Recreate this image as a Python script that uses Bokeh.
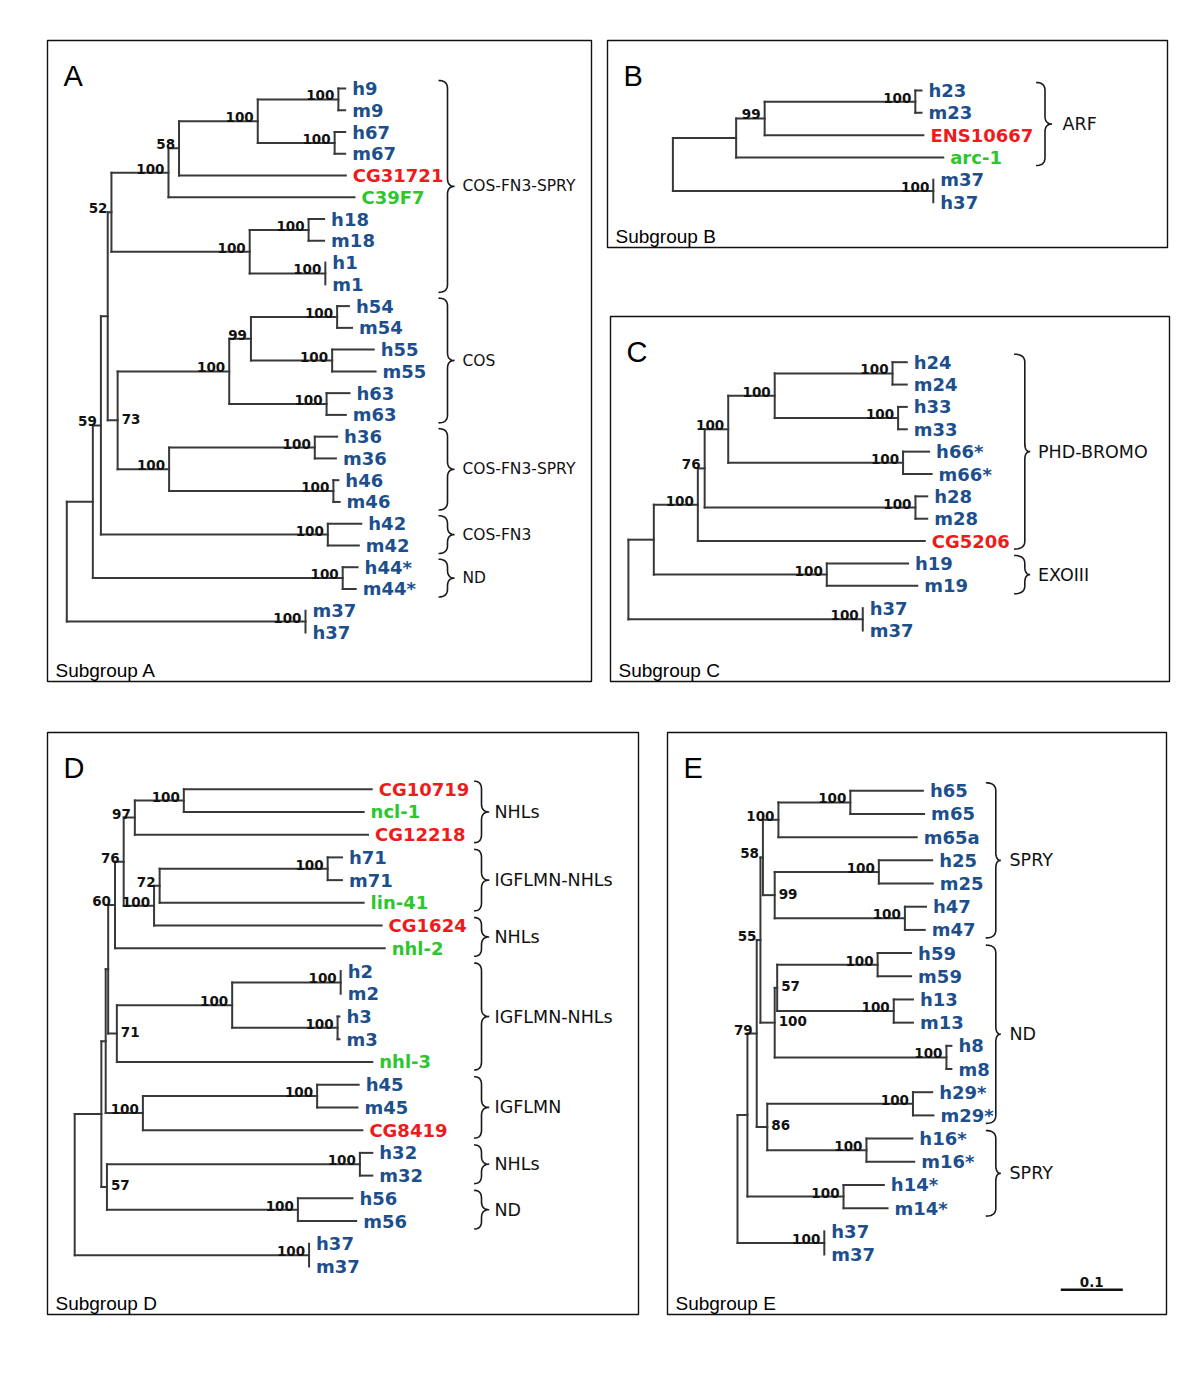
from bokeh.plotting import figure
from bokeh.models import Range1d
from bokeh.core.properties import value
from bokeh.embed import file_html
from bokeh.resources import INLINE

# ---------------- data: trees (Newick, branch lengths in substitutions/site) ----------------
# internal-node labels are bootstrap values; a trailing ">" marks a value printed right of its node
TREE_A = ("(((((((((h9:0.011,m9:0.011)100:0.130,(h67:0.017,m67:0.017)100:0.124)100:0.127,CG31721:0.269)58:0.017,"
          "C39F7:0.300)100:0.092,((h18:0.025,m18:0.025)100:0.095,(h1:0,m1:0)100:0.122)100:0.223)52:0.006,"
          "((((h54:0.019,m54:0.024)100:0.139,(h55:0.067,m55:0.070)100:0.131)99:0.035,(h63:0.037,m63:0.031)100:0.157)100:0.180,"
          "((h36:0.036,m36:0.034)100:0.235,(h46:0.008,m46:0.010)100:0.265)100:0.083)73>:0.016):0.011,"
          "(h42:0.054,m42:0.050)100:0.366)59:0.013,(h44*:0.024,m44*:0.021)100:0.403):0.042,(m37:0,h37:0)100:0.385);")
TREE_B = "((((h23:0.010,m23:0.010)100:0.243,ENS10667:0.256)99:0.046,arc-1:0.334):0.102,(m37:0,h37:0)100:0.420);"
TREE_C = ("(((((((h24:0.023,m24:0.023)100:0.190,(h33:0.014,m33:0.014)100:0.199)100:0.075,(h66*:0.042,m66*:0.046)100:0.282)100:0.038,"
          "(h28:0.019,m28:0.019)100:0.340)76:0.011,CG5206:0.366)100:0.071,(h19:0.131,m19:0.146)100:0.279):0.041,(h37:0,m37:0)100:0.378);")
TREE_D = ("((((((((CG10719:0.303,ncl-1:0.290)100:0.079,CG12218:0.376)97:0.018,(((h71:0.023,m71:0.023)100:0.271,lin-41:0.329)72:0.009,"
          "CG1624:0.367)100:0.049)76:0.014,nhl-2:0.435)60:0.011,(((h2:0,m2:0)100:0.175,(h3:0.003,m3:0.003)100:0.170)100:0.186,"
          "nhl-3:0.412)71>:0.014):0.004,((h45:0.067,m45:0.065)100:0.281,CG8419:0.354)100:0.060):0.007,"
          "((h32:0.020,m32:0.020)100:0.408,(h56:0.088,m56:0.094)100:0.308)57>:0.009):0.043,(h37:0,m37:0)100:0.378);")
TREE_E = ("(((((((h65:0.117,m65:0.119)100:0.116,m65a:0.223)100:0.025,((h25:0.086,m25:0.087)100:0.168,(h47:0.034,m47:0.032)100:0.210)99>:0.019)58:0.004,"
          "(((h59:0.054,m59:0.054)100:0.162,(h13:0.031,m13:0.031)100:0.188)57>:0.004,(h8:0.008,m8:0.008)100:0.277)100>:0.023)55:0.006,"
          "((h29*:0.031,m29*:0.033)100:0.235,(h16*:0.074,m16*:0.077)100:0.160)86>:0.017)79:0.015,(h14*:0.065,m14*:0.071)100:0.155):0.016,"
          "(h37:0,m37:0)100:0.140);")

RED_LEAVES = ["CG31721", "ENS10667", "CG5206", "CG10719", "CG12218", "CG1624", "CG8419"]
GREEN_LEAVES = ["C39F7", "arc-1", "ncl-1", "lin-41", "nhl-2", "nhl-3"]

BRACKETS_A = [("h9", "m1", "COS-FN3-SPRY"), ("h54", "m63", "COS"), ("h36", "m46", "COS-FN3-SPRY"),
              ("h42", "m42", "COS-FN3"), ("h44*", "m44*", "ND")]
BRACKETS_B = [("h23", "arc-1", "ARF")]
BRACKETS_C = [("h24", "CG5206", "PHD-BROMO"), ("h19", "m19", "EXOIII")]
BRACKETS_D = [("CG10719", "CG12218", "NHLs"), ("h71", "lin-41", "IGFLMN-NHLs"), ("CG1624", "nhl-2", "NHLs"),
              ("h2", "nhl-3", "IGFLMN-NHLs"), ("h45", "CG8419", "IGFLMN"), ("h32", "m32", "NHLs"), ("h56", "m56", "ND")]
BRACKETS_E = [("h65", "m47", "SPRY"), ("h59", "m29*", "ND"), ("h16*", "m14*", "SPRY")]

PANEL_LETTERS = ["A", "B", "C", "D", "E"]
CAPTIONS = ["Subgroup A", "Subgroup B", "Subgroup C", "Subgroup D", "Subgroup E"]
SCALE_BAR = 0.1

# ---------------- layout / style ----------------
PX_PER_UNIT = 620.0
BLUE, RED, GREEN = "#1d4f8c", "#ee1b1b", "#2ec62e"
LINE = "#383838"

PANELS = [
    dict(tree=TREE_A, br=BRACKETS_A, box=(47, 40, 591, 681), root_x=66.3, y0=88.0, dy=21.76,
         brace=(438, 447, 454), lab_x=462, lab_fs="15.5px"),
    dict(tree=TREE_B, br=BRACKETS_B, box=(607, 40, 1167, 247), root_x=672.4, y0=90.0, dy=22.34,
         brace=(1035.6, 1044.5, 1051.6), lab_x=1062, lab_fs="17.5px"),
    dict(tree=TREE_C, br=BRACKETS_C, box=(610, 316, 1169, 681), root_x=627.9, y0=361.7, dy=22.36,
         brace=(1013.6, 1024.3, 1029.6), lab_x=1037.5, lab_fs="17.5px"),
    dict(tree=TREE_D, br=BRACKETS_D, box=(47, 732, 638, 1314), root_x=74.2, y0=788.7, dy=22.73,
         brace=(473.6, 481, 488.7), lab_x=494, lab_fs="17.5px"),
    dict(tree=TREE_E, br=BRACKETS_E, box=(667, 732, 1166, 1314), root_x=737.0, y0=790.3, dy=23.185,
         brace=(985.3, 995.3, 1000.3), lab_x=1009, lab_fs="17.5px"),
]


def parse_newick(s):
    s = s.strip().rstrip(";")
    pos = 0

    def node():
        nonlocal pos
        kids = []
        if s[pos] == "(":
            pos += 1
            while True:
                kids.append(node())
                if s[pos] == ",":
                    pos += 1
                    continue
                pos += 1  # ')'
                break
        st = pos
        while pos < len(s) and s[pos] not in ",():":
            pos += 1
        name = s[st:pos]
        ln = 0.0
        if pos < len(s) and s[pos] == ":":
            pos += 1
            st = pos
            while pos < len(s) and s[pos] not in ",()":
                pos += 1
            ln = float(s[st:pos])
        return {"name": name, "len": ln, "kids": kids}

    return node()


def place(nd, parent_x, leaves, y0, dy):
    nd["x"] = parent_x + nd["len"] * PX_PER_UNIT
    if nd["kids"]:
        for k in nd["kids"]:
            place(k, nd["x"], leaves, y0, dy)
        nd["y"] = (nd["kids"][0]["y"] + nd["kids"][-1]["y"]) / 2.0
    else:
        nd["y"] = y0 + len(leaves) * dy
        leaves.append(nd)


def walk(nd):
    yield nd
    for k in nd["kids"]:
        yield from walk(k)


def qbez(p0, c, p1, n=10):
    out = []
    for i in range(n + 1):
        t = i / n
        out.append(((1 - t) ** 2 * p0[0] + 2 * (1 - t) * t * c[0] + t * t * p1[0],
                    (1 - t) ** 2 * p0[1] + 2 * (1 - t) * t * c[1] + t * t * p1[1]))
    return out


def brace_pts(xl, xs, xt, ya, yb, r=8.0):
    ym = (ya + yb) / 2.0
    r = min(r, (yb - ya) / 4.0)
    pts = qbez((xl, ya), (xs, ya), (xs, ya + r))
    pts += [(xs, ym - r)]
    pts += qbez((xs, ym - r), (xs, ym), (xt, ym))
    pts += qbez((xt, ym), (xs, ym), (xs, ym + r))
    pts += [(xs, yb - r)]
    pts += qbez((xs, yb - r), (xs, yb), (xl, yb))
    return [q[0] for q in pts], [q[1] for q in pts]


W, H = 1184, 1371
p = figure(width=W, height=H, x_range=Range1d(0, W), y_range=Range1d(H, 0),
           output_backend="svg", toolbar_location=None, min_border=0,
           x_axis_location=None, y_axis_location=None)
p.grid.visible = False
p.outline_line_color = None
p.background_fill_color = "white"
p.border_fill_color = "white"

seg = dict(x0=[], y0=[], x1=[], y1=[])
leaf = dict(x=[], y=[], t=[], c=[])
bs_l = dict(x=[], y=[], t=[])
bs_r = dict(x=[], y=[], t=[])
br_xs, br_ys = [], []
br_lab = {}

for i, P in enumerate(PANELS):
    root = parse_newick(P["tree"])
    leaves = []
    place(root, P["root_x"], leaves, P["y0"], P["dy"])
    ypos = {lf["name"]: lf["y"] for lf in leaves}
    for nd in walk(root):
        for k in nd["kids"]:
            if k["x"] - nd["x"] > 0.5:
                seg["x0"].append(nd["x"]); seg["x1"].append(k["x"])
                seg["y0"].append(k["y"]); seg["y1"].append(k["y"])
        if nd["kids"]:
            seg["x0"].append(nd["x"]); seg["x1"].append(nd["x"])
            seg["y0"].append(nd["kids"][0]["y"]); seg["y1"].append(nd["kids"][-1]["y"])
            nm = nd["name"]
            if nm:
                if nm.endswith(">"):
                    bs_r["x"].append(nd["x"] + 4); bs_r["y"].append(nd["y"] - 1.5); bs_r["t"].append(nm[:-1])
                else:
                    bs_l["x"].append(nd["x"] - 4); bs_l["y"].append(nd["y"] - 4); bs_l["t"].append(nm)
        else:
            nm = nd["name"]
            leaf["x"].append(nd["x"] + 7); leaf["y"].append(nd["y"]); leaf["t"].append(nm)
            leaf["c"].append(RED if nm in RED_LEAVES else GREEN if nm in GREEN_LEAVES else BLUE)
    xl, xs, xt = P["brace"]
    for (a, b, lab) in P["br"]:
        ya, yb = ypos[a] - 8, ypos[b] + 8
        bx, by = brace_pts(xl, xs, xt, ya, yb)
        br_xs.append(bx); br_ys.append(by)
        br_lab.setdefault(P["lab_fs"], dict(x=[], y=[], t=[]))
        d = br_lab[P["lab_fs"]]
        d["x"].append(P["lab_x"]); d["y"].append((ya + yb) / 2.0); d["t"].append(lab)

    L, T, R, B = P["box"]
    p.quad(left=[L], right=[R], top=[T], bottom=[B], fill_alpha=0, line_color="#111111", line_width=1.4)
    p.text(x=[L + 16], y=[T + 35], text=[PANEL_LETTERS[i]], text_font=value("Liberation Sans"),
           text_font_size="29px", text_color="black", text_baseline="alphabetic", text_align="left")
    p.text(x=[L + 8], y=[B - 11], text=[CAPTIONS[i]], text_font=value("Liberation Sans"),
           text_font_size="19px", text_color="black", text_baseline="alphabetic", text_align="left")

p.segment(x0="x0", y0="y0", x1="x1", y1="y1", source=seg, line_color=LINE, line_width=2, line_cap="square")
p.multi_line(xs=br_xs, ys=br_ys, line_color="#1a1a1a", line_width=1.6)

p.text(x="x", y="y", text="t", text_color="c", source=leaf, text_font=value("DejaVu Sans"),
       text_font_style="bold", text_font_size="18px", text_baseline="middle", text_align="left")
p.text(x="x", y="y", text="t", source=bs_l, text_font=value("DejaVu Sans"), text_font_style="bold",
       text_font_size="13.5px", text_color="#111111", text_baseline="alphabetic", text_align="right")
p.text(x="x", y="y", text="t", source=bs_r, text_font=value("DejaVu Sans"), text_font_style="bold",
       text_font_size="13.5px", text_color="#111111", text_baseline="middle", text_align="left")
for fs, d in br_lab.items():
    p.text(x="x", y="y", text="t", source=d, text_font=value("DejaVu Sans"), text_font_size=fs,
           text_color="#111111", text_baseline="middle", text_align="left")

# scale bar (panel E)
sb_x0, sb_y = 1060.3, 1289.3
sb_x1 = sb_x0 + SCALE_BAR * PX_PER_UNIT
p.segment(x0=[sb_x0], y0=[sb_y], x1=[sb_x1], y1=[sb_y], line_color="#111111", line_width=2.5)
p.text(x=[(sb_x0 + sb_x1) / 2], y=[sb_y - 8], text=[f"{SCALE_BAR:g}"], text_font=value("DejaVu Sans"),
       text_font_style="bold", text_font_size="13.5px", text_color="#111111",
       text_baseline="alphabetic", text_align="center")

open("out.html", "w").write(file_html(p, INLINE))
